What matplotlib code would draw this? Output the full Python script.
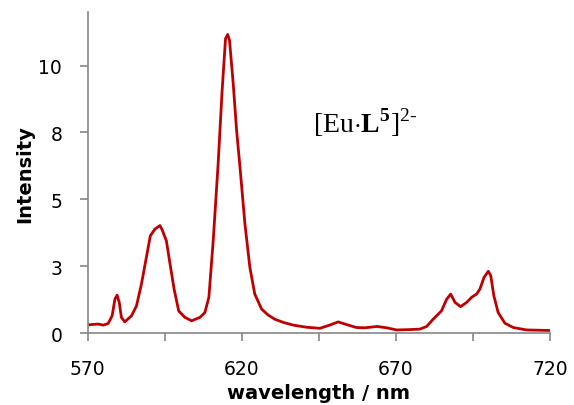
import numpy as np
import matplotlib
matplotlib.use("Agg")
import matplotlib.pyplot as plt

# emission spectrum
wavelength = [570.1, 573.3, 575, 576.6, 577.9, 578.8, 579.5, 580.2, 580.9, 582, 584.2, 585.8,
              587.4, 589.1, 590.3, 591.8, 593.4, 594.1, 595.5, 596.6, 598, 599.5, 601.5, 603.7,
              606.4, 608, 609.3, 610.7, 612.3, 613.6, 614.7, 615.4, 616, 617.2, 618.3, 619.4,
              621, 622.6, 624.2, 626.4, 628.5, 630.7, 633.5, 636.7, 641, 645.3, 648.5, 651.3,
              654, 657.2, 660, 663.9, 667, 670.2, 674, 677.8, 680, 682.1, 684.8, 686.5, 687.8,
              689.2, 691, 693, 694.6, 696.2, 697.3, 698.6, 700, 700.8, 701.8, 703.2, 705.4,
              708.1, 712.4, 716, 720]
intensity = [0.31, 0.34, 0.3, 0.36, 0.65, 1.27, 1.42, 1.15, 0.59, 0.42, 0.65, 1.02,
             1.83, 2.89, 3.64, 3.89, 4.02, 3.87, 3.45, 2.65, 1.65, 0.83, 0.59, 0.46,
             0.59, 0.77, 1.34, 3.45, 6.32, 9.07, 11.0, 11.16, 10.94, 9.32, 7.57, 6.2,
             4.08, 2.46, 1.46, 0.9, 0.68, 0.52, 0.4, 0.3, 0.22, 0.18, 0.3, 0.42,
             0.32, 0.21, 0.2, 0.25, 0.2, 0.12, 0.13, 0.15, 0.25, 0.52, 0.83, 1.27, 1.46,
             1.15, 0.99, 1.15, 1.34, 1.46, 1.65, 2.08, 2.31, 2.15, 1.4, 0.77, 0.37,
             0.21, 0.12, 0.11, 0.1]

x_ticks = [570, 595, 620, 645, 670, 695, 720]
x_labels = ["570", "", "620", "", "670", "", "720"]
y_ticks = [0, 2.5, 5, 7.5, 10]
y_labels = ["0", "3", "5", "8", "10"]

plt.rcParams['font.family'] = ['DejaVu Sans']
plt.rcParams['mathtext.fontset'] = 'custom'
plt.rcParams['mathtext.rm'] = 'Liberation Serif'
plt.rcParams['mathtext.bf'] = 'Liberation Serif:bold'

fig = plt.figure(figsize=(5.74, 4.06), dpi=100)
ax = fig.add_axes([0.153, 0.177, 0.805, 0.791])

ax.plot(wavelength, intensity, color='#C00000', lw=2.0, solid_joinstyle='round')

ax.set_xlim(570, 720)
ax.set_ylim(0, 12)
ax.set_xticks(x_ticks)
ax.set_xticklabels(x_labels)
ax.set_yticks(y_ticks)
ax.set_yticklabels(y_labels)

for s in ['top', 'right']:
    ax.spines[s].set_visible(False)
for s in ['left', 'bottom']:
    ax.spines[s].set_color('#868686')
    ax.spines[s].set_linewidth(1.2)
ax.tick_params(direction='out', length=5.5, width=1.2, color='#868686',
               labelsize=13.5)
ax.tick_params(axis='x', pad=13)
ax.tick_params(axis='y', pad=13)

ax.set_xlabel('wavelength / nm', fontsize=14, fontweight='bold', labelpad=4)
ax.set_ylabel('Intensity', fontsize=14, fontweight='bold', labelpad=3)

ax.text(0.487, 0.657, r'$\mathrm{[Eu{\cdot}}\mathbf{L}^{\mathbf{5}}\mathrm{]}^{\mathrm{2\text{-}}}$',
        transform=ax.transAxes, fontsize=20, ha='left', va='center')

fig.savefig('out.png', dpi=100)
